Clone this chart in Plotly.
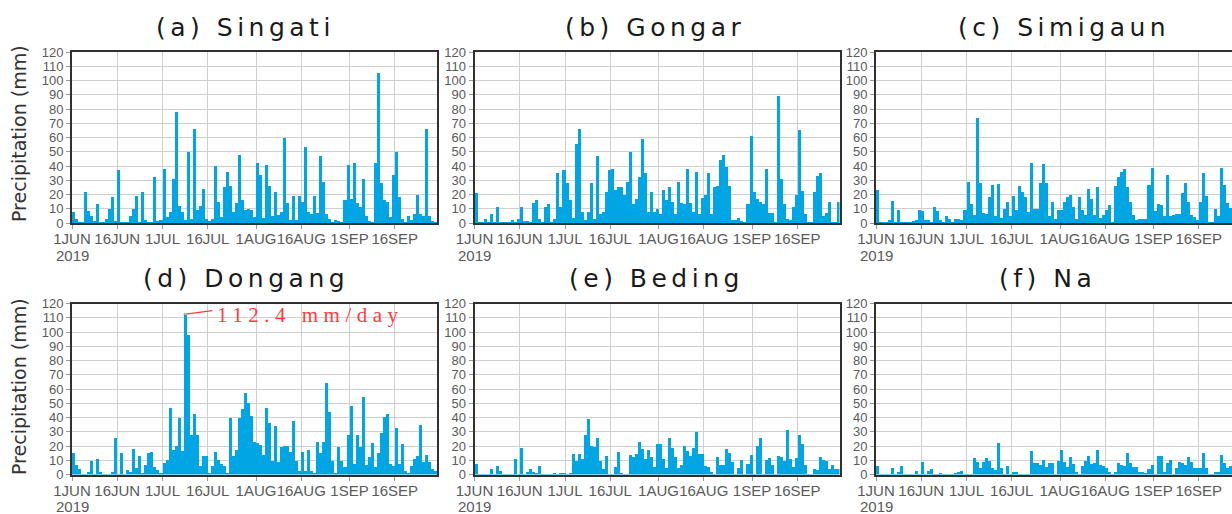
import datetime as dt
import plotly.graph_objects as go

# ---------------- data (daily precipitation, mm, 1 Jun - 30 Sep 2019) ----------------
start_date = "2019-06-01"
n_days = 122

stations = ["(a) Singati", "(b) Gongar", "(c) Simigaun",
            "(d) Dongang", "(e) Beding", "(f) Na"]

singati = [8, 3, 0.5, 0.5, 22, 8.5, 5, 1, 13, 0.5, 0.3, 3, 10, 18, 1.5, 37, 0.5, 0.5, 0.3, 5,
           10, 19, 0.3, 21.5, 2, 0.5, 0.5, 32, 1, 2, 38, 4, 8, 31, 78, 12, 8, 2, 50, 3,
           66, 9, 12, 24, 3, 1, 3, 40, 15, 4, 25, 36, 26, 8, 14, 48, 16, 9, 10, 9,
           4, 42, 34, 3.5, 41, 26, 5, 22, 5.5, 8, 60, 14, 2, 19, 2, 19, 15, 53, 8, 6,
           19, 7, 47, 29, 6, 3, 0.5, 2, 1, 0.5, 16, 41, 17, 42, 14, 11, 31, 5, 1, 0.5,
           42, 105, 28, 16, 15, 4, 34, 50, 18, 3, 0.5, 5, 2, 6, 20, 6, 5, 66, 5, 1,
           0.5, 0.5]

gongar = [21, 0.3, 0.3, 3, 0.5, 6, 0.5, 11, 0.3, 0.3, 0.3, 0.3, 2, 0.5, 3, 11, 1, 1.5, 0.7, 14,
          16, 2.6, 0.5, 11, 13, 0.5, 3, 35, 11, 37, 28, 16, 3.5, 55.5, 66, 8, 2, 8, 28, 3,
          47, 6, 7.5, 22, 37, 38, 23, 25, 25, 19.5, 29, 50, 13, 16.5, 32, 59, 35, 8, 22, 8,
          10, 6.5, 23, 16, 25, 15, 6, 29, 14, 13.6, 38, 14, 8, 36, 6.5, 17.6, 20, 35, 6, 25,
          26, 44, 48, 39, 26, 2, 2, 3.3, 1, 0.2, 13, 61, 22, 17, 14.6, 13, 37.6, 7, 7, 0.5,
          89, 31, 13, 3, 2, 11, 20, 65, 22.6, 6.5, 0.7, 0.5, 22, 33, 35, 5, 7, 14.4, 0.5, 0.5,
          15, 15]

simigaun = [23, 0.3, 0.3, 0.3, 2.4, 15.5, 0.5, 9.4, 0.5, 0.3, 0.3, 0.3, 1.4, 2, 9.4, 8.5, 2.4, 2, 0.5, 11,
            8.7, 2, 0.3, 4.7, 2.8, 0.3, 3, 3, 2, 9.4, 28.5, 13.6, 5.6, 73.6, 28, 7, 6.6, 18.4, 27, 4.7,
            27.3, 3.3, 10, 14.8, 4.7, 19, 9.4, 26, 22, 18.4, 7.8, 42, 9.6, 9.6, 28, 41.4, 28, 5, 15, 2.6,
            9, 9, 14.6, 18.4, 20, 11, 3, 18, 9.4, 5.4, 24, 16.5, 5.4, 25, 3.5, 5.4, 9, 12.5, 0.7, 26,
            32, 36, 37.6, 25.4, 14.8, 5.4, 2, 2.6, 2.6, 3, 26.6, 38.4, 8.5, 13, 12.5, 5, 34, 5, 5.4, 6,
            6.6, 21, 28, 15, 5.4, 4.2, 2.4, 15, 35, 19, 0.5, 0.7, 9.6, 5, 38.8, 27, 14, 10.8, 6, 4,
            8, 3]

dongang = [15.5, 7.3, 4.2, 0.7, 0.7, 1.9, 9.6, 0.5, 11.2, 1.9, 0.3, 0.3, 0.3, 2.3, 25.8, 0.5, 15.2, 0.5, 3.5, 1.9,
           18, 4.7, 13.3, 1.2, 7.3, 15.2, 15.9, 5.9, 3.7, 0.9, 8.7, 10.5, 47, 17.6, 20.6, 39.8, 16.6, 112.4, 98.4, 28.3,
           42.6, 28.3, 6.6, 13.6, 13.6, 1.4, 6.6, 15.9, 10.5, 7.7, 6.6, 1.2, 40, 13.1, 17.8, 39.8, 46.4, 57.4, 50.6, 41.7,
           23, 22.5, 21.3, 14.3, 46.8, 36.3, 9.6, 34.7, 8.9, 19.4, 20.6, 20.6, 16.4, 37.7, 10, 3, 16.4, 3, 17.6, 3,
           1.2, 23, 15.5, 23.4, 64.4, 44, 10, 1.2, 19.4, 9.6, 5.9, 28, 48.7, 7.7, 28, 19.4, 54.6, 7.3, 12.4, 22.5,
           5.4, 15.5, 29.3, 40.5, 42.9, 7.7, 6.6, 33, 7.7, 21.8, 3, 1.2, 6, 11.2, 13.1, 35, 9.4, 14, 8.9, 4.2,
           3, 3]

beding = [7.7, 0.5, 0.5, 0.5, 0.5, 4.2, 0.5, 6, 2.6, 0.3, 0.3, 0.3, 0.3, 11, 0.3, 18.7, 0.3, 2.3, 4.2, 2.3,
          1.6, 6.6, 0.5, 0.3, 0.3, 0.3, 1, 0.3, 1.4, 1.4, 0.5, 1.4, 14.8, 10, 14.8, 11, 28, 39.3, 20.6, 19.4,
          25.8, 10, 4.2, 13.6, 0.3, 0.3, 5.4, 16, 1.4, 0.5, 0.3, 14, 12.7, 14.8, 23.4, 18.3, 11.2, 17.6, 12.9, 5.4,
          21.8, 21.5, 11.2, 5, 25.8, 18.7, 12.4, 5, 7.3, 20.6, 17, 13.6, 19, 30, 14.8, 14.8, 6.6, 5.4, 1.9, 0.5,
          12.4, 7, 7, 18.3, 15.2, 8.9, 0.7, 4.7, 10.5, 0.7, 7.7, 14.3, 0.7, 20.6, 26, 0.3, 10.8, 12, 7, 0.7,
          13.6, 12.9, 9.6, 31.6, 11.2, 5.4, 12, 28, 21.8, 7.3, 0.5, 0.5, 4.2, 3.5, 12.4, 10.8, 9.6, 4.2, 7.3, 4.2,
          4.2, 3]

na = [6.6, 0.5, 0.5, 0.5, 0.5, 4.7, 0.7, 1.9, 6, 0.5, 0.3, 0.3, 0.3, 3, 0.5, 9.4, 0.5, 2.6, 4.2, 0.3,
      0.3, 1.2, 0.3, 0.3, 0.3, 0.3, 1.2, 1.9, 2.6, 0.3, 0.3, 0.3, 11.7, 9.4, 5.2, 8.9, 11.7, 9.6, 4.7, 3.7,
      22.5, 4.7, 0.5, 6, 0.5, 1.9, 1.9, 0.5, 0.3, 0.3, 0.3, 16.6, 8.4, 8.2, 7, 10.8, 5.4, 8.2, 8.4, 0.5,
      9.6, 17.8, 8.9, 5.4, 12.9, 7.5, 2.3, 0.5, 6, 9.6, 13.6, 7.7, 8.4, 17.6, 7, 6.6, 4.7, 1.9, 0.5, 1.9,
      8.2, 7, 6.6, 15.5, 8.4, 5.4, 5.4, 1.9, 2.3, 1.4, 4.2, 7, 0.5, 13.1, 13.1, 1.9, 8.4, 10.5, 0.5, 4.7,
      8.9, 8.4, 7, 12.4, 9.4, 4.9, 4.9, 4.9, 15.2, 4.9, 0.5, 0.5, 1.9, 2.3, 14, 8.4, 4.7, 6.6, 5, 3,
      4, 2]

series = [singati, gongar, simigaun, dongang, beding, na]

tick_dates = ["2019-06-01", "2019-06-16", "2019-07-01", "2019-07-16",
              "2019-08-01", "2019-08-16", "2019-09-01", "2019-09-16"]
tick_labels = ["1JUN", "16JUN", "1JUL", "16JUL", "1AUG", "16AUG", "1SEP", "16SEP"]
year_label = "2019"

y_ticks = list(range(0, 121, 10))
peak_label = "112.4 mm/day"

# ---------------- layout geometry (pixels) ----------------
W, H = 1232, 514
col_left = [72, 474.5, 876]
panel_w = 365
row_top = [(52, 223), (303.5, 474.5)]
title_pos = [(245, 27), (655, 27), (1064, 27), (246, 278), (656, 278), (1047, 278)]
px_per_day = panel_w / 121.0

t0 = dt.datetime.fromisoformat(start_date)
days = [t0 + dt.timedelta(days=i, hours=12) for i in range(n_days)]

BAR = "#00A5E3"
GRID = "#cfcfcf"
AX = "#303030"
TXT = "#5a5a5a"

fig = go.Figure()
layout = dict(width=W, height=H,
              margin=dict(l=0, r=0, t=0, b=0, pad=0, autoexpand=False),
              paper_bgcolor="white", plot_bgcolor="white", showlegend=False,
              bargap=0, annotations=[], shapes=[])

for k, vals in enumerate(series):
    r, c = divmod(k, 3)
    n = k + 1
    xa = "x" if n == 1 else f"x{n}"
    ya = "y" if n == 1 else f"y{n}"
    fig.add_trace(go.Bar(x=days, y=vals, width=86400000, xaxis=xa, yaxis=ya,
                         marker=dict(color=BAR, line=dict(width=0))))
    left = col_left[c]
    right = min(left + panel_w, W)
    span_days = (right - left) / px_per_day
    x_end = t0 + dt.timedelta(days=span_days)
    top, bot = row_top[r]
    xkey = "xaxis" if n == 1 else f"xaxis{n}"
    ykey = "yaxis" if n == 1 else f"yaxis{n}"
    clipped = right < left + panel_w
    layout[xkey] = dict(domain=[left / W, right / W], anchor=ya, type="date",
                        range=[t0, x_end], tickvals=tick_dates, ticktext=tick_labels,
                        showgrid=True, gridcolor=GRID, gridwidth=1,
                        showline=True, linecolor=AX, linewidth=2, mirror=True,
                        ticks="outside", ticklen=4, tickcolor="#999999",
                        ticklabelstandoff=-3,
                        tickfont=dict(family="Liberation Sans", size=15, color=TXT),
                        tickangle=0, zeroline=False, fixedrange=True, automargin=False)
    layout[ykey] = dict(domain=[1 - bot / H, 1 - top / H], anchor=xa,
                        range=[0, 120], tickvals=y_ticks,
                        showgrid=True, gridcolor=GRID, gridwidth=1,
                        showline=True, linecolor=AX, linewidth=2,
                        mirror=(not clipped),
                        ticks="outside", ticklen=4, tickcolor="#999999",
                        tickfont=dict(family="Liberation Sans", size=13, color=TXT),
                        zeroline=False, fixedrange=True, automargin=False)
    # year under the first date label
    layout["annotations"].append(dict(
        text=year_label, xref="paper", yref="paper",
        x=left / W, y=1 - (bot + 32) / H, xanchor="center", yanchor="middle",
        showarrow=False, font=dict(family="Liberation Sans", size=15, color=TXT)))
    tx, ty = title_pos[k]
    layout["annotations"].append(dict(
        text=f'<span style="letter-spacing:4.5px">{stations[k]}</span>',
        xref="paper", yref="paper", x=tx / W, y=1 - ty / H,
        xanchor="center", yanchor="middle", showarrow=False,
        font=dict(family="DejaVu Sans", size=25, color="#1a1a1a")))

# y-axis titles
for yc in (134, 387):
    layout["annotations"].append(dict(
        text="Precipitation (mm)", xref="paper", yref="paper",
        x=19 / W, y=1 - yc / H, xanchor="center", yanchor="middle",
        textangle=-90, showarrow=False,
        font=dict(family="DejaVu Sans", size=19, color="#333333")))

# peak annotation on Dongang
pk = max(range(n_days), key=lambda i: dongang[i])
pk_x = days[pk]
pk_y = dongang[pk]
end_x = pk_x + dt.timedelta(days=9)
layout["shapes"].append(dict(type="line", xref="x4", yref="y4",
                             x0=pk_x - dt.timedelta(hours=10), y0=pk_y,
                             x1=end_x, y1=pk_y + 2.6,
                             line=dict(color="#ff3b3b", width=1.2)))
layout["shapes"].append(dict(type="line", xref="x4", yref="y4",
                             x0=pk_x - dt.timedelta(hours=12), y0=pk_y,
                             x1=pk_x + dt.timedelta(hours=12), y1=pk_y,
                             line=dict(color="#7fb8d0", width=1.5)))
layout["annotations"].append(dict(
    text=f'<span style="letter-spacing:5.5px">{peak_label}</span>',
    xref="x4", yref="y4", x=end_x + dt.timedelta(hours=20), y=pk_y - 0.5,
    xanchor="left", yanchor="middle", showarrow=False,
    font=dict(family="Liberation Serif", size=21, color="#ff3b3b")))

fig.update_layout(**layout)
fig.write_html("out.html")
